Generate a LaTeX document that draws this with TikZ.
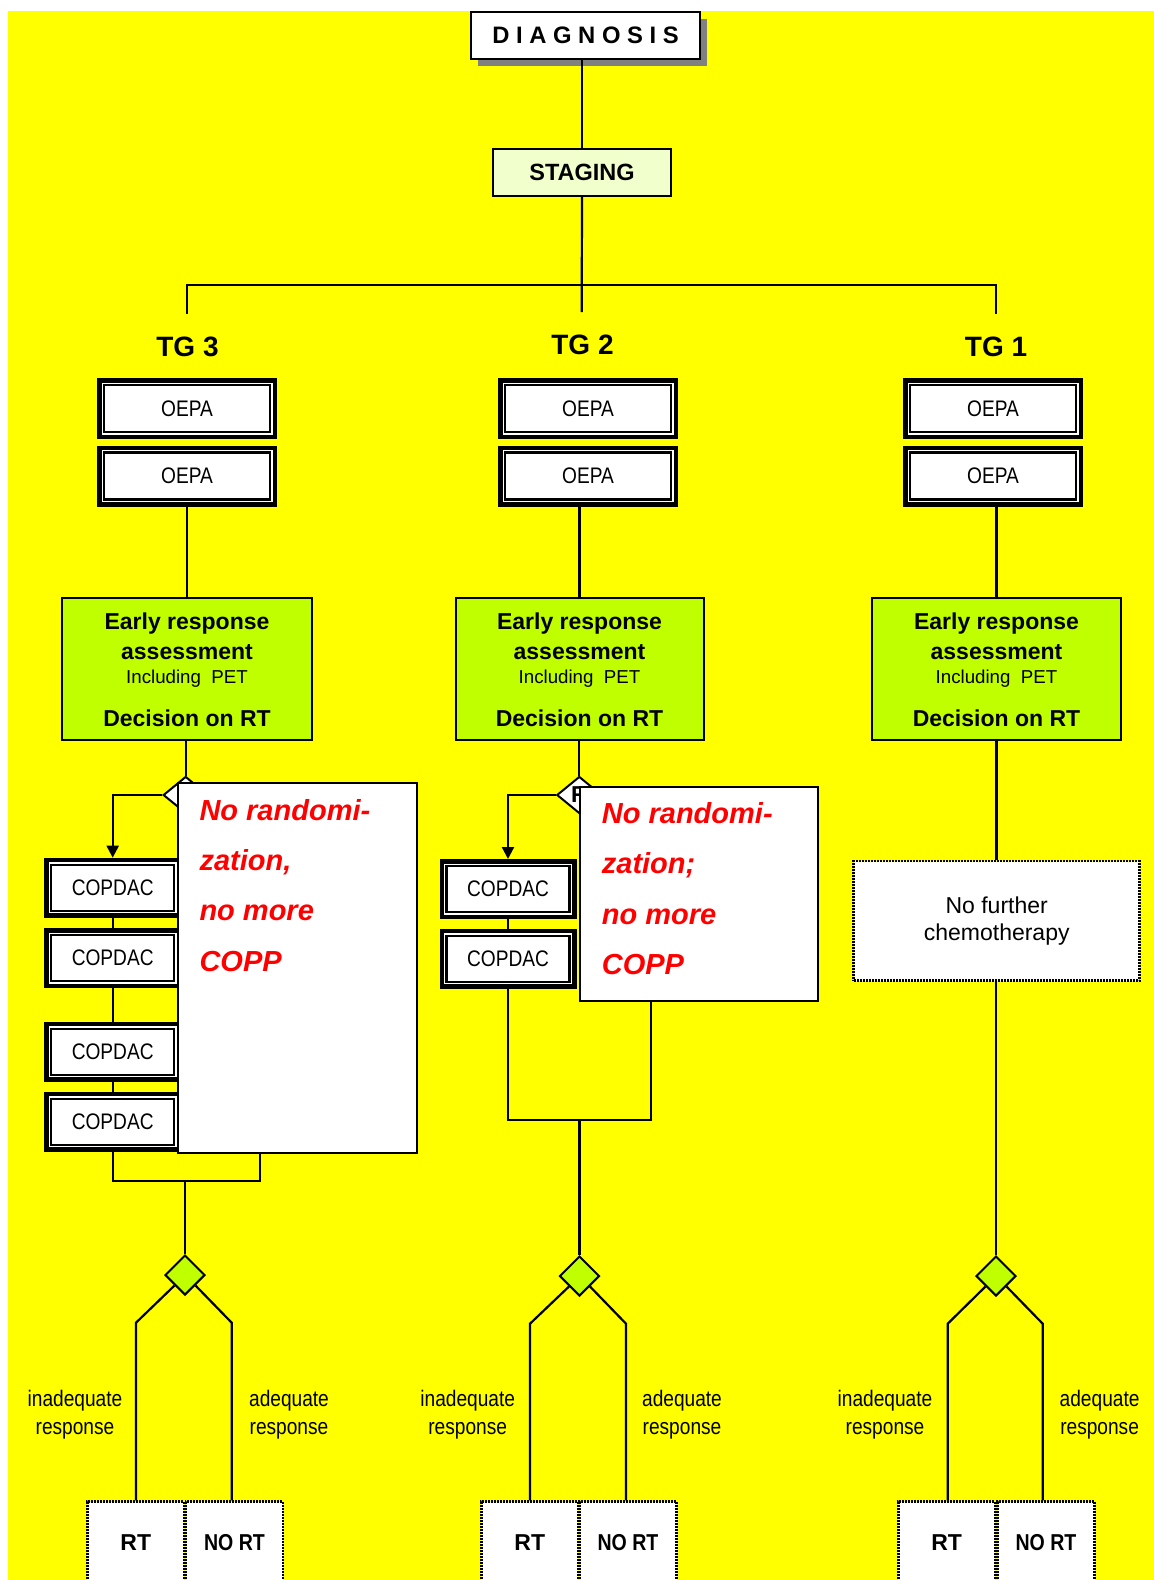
\documentclass[tikz,border=0pt]{standalone}
\usepackage{fontspec}
\setmainfont{Liberation Sans}
\newfontfamily\narrowfont[FakeStretch=0.85]{Liberation Sans}
\usetikzlibrary{shapes.geometric,arrows.meta,shadows}
\definecolor{bgyellow}{RGB}{255,255,0}
\definecolor{paleg}{RGB}{240,255,204}
\definecolor{limeg}{RGB}{192,255,0}
\definecolor{shadowgray}{RGB}{128,128,128}
\definecolor{notered}{RGB}{255,0,0}
\newcommand\fs[1]{\fontsize{#1}{#1}\selectfont}
% double framed box: name, x, y, width, height, text
\newcommand\dblbox[6]{%
  \node[dblout, minimum width=#4pt-4.5pt, minimum height=#5pt-4.5pt] (#1) at (#2,#3) {};
  \node[dblin, minimum width=#4pt-14pt, minimum height=#5pt-14pt] (#1in) at (#2,#3) {#6};
}
\newcommand\erlines[1]{%
  \node[ertxtb, anchor=base] (#1la) at ([yshift=-32pt]#1.north) {Early response};
  \node[ertxtb, anchor=base] (#1lb) at ([yshift=-62pt]#1.north) {assessment};
  \node[ertxts, anchor=base] (#1lc) at ([yshift=-86pt]#1.north) {Including\ \ PET};
  \node[ertxtb, anchor=base] (#1ld) at ([yshift=-129pt]#1.north) {Decision on RT};
}
\begin{document}
\begin{tikzpicture}[x=1pt,y=-1pt,
  conn/.style={line width=2.2pt, draw=black},
  arr/.style={conn, -{Triangle[width=12pt,length=12pt]}},
  diagbox/.style={draw=black, line width=2pt, fill=white, minimum width=229pt, minimum height=47pt, inner sep=0pt,
     font=\bfseries\fs{23.8},
     drop shadow={shadow xshift=7pt, shadow yshift=-7pt, fill=shadowgray, opacity=1}},
  stagebox/.style={draw=black, line width=2pt, fill=paleg, minimum width=178pt, minimum height=47pt, inner sep=0pt, font=\bfseries\fs{23.5}},
  tglabel/.style={font=\bfseries\fs{28}, inner sep=0pt},
  dblout/.style={draw=black, line width=4.5pt, fill=white, inner sep=0pt},
  dblin/.style={draw=black, line width=2.3pt, inner sep=0pt, font=\narrowfont\fs{22.5}},
  erbox/.style={draw=black, line width=2pt, fill=limeg, minimum height=142pt, inner sep=0pt},
  ertxtb/.style={font=\bfseries\fs{23}, inner sep=0pt},
  ertxts/.style={font=\fs{18.7}, inner sep=0pt},
  rdiam/.style={diamond, draw=black, line width=2pt, fill=white, minimum width=45pt, minimum height=37pt, inner sep=0pt, font=\bfseries\fs{23}},
  gdiam/.style={diamond, draw=black, line width=2pt, fill=limeg, minimum width=40pt, minimum height=40pt, inner sep=0pt},
  notebox/.style={draw=black, line width=2pt, fill=white, inner sep=0pt},
  notetxt/.style={font=\bfseries\itshape\fontsize{29}{50.3}\selectfont, text=notered, align=left, inner sep=0pt, anchor=north west},
  dotbox/.style={draw=black, line width=2.6pt, dash pattern=on 2pt off 1pt, fill=white, inner sep=0pt},
  rtbox/.style={dotbox, minimum width=97pt, minimum height=82pt, font=\bfseries\fs{23}},
  resp/.style={font=\narrowfont\fontsize{22.5}{28}\selectfont, align=center, inner sep=0pt}]

\useasboundingbox (0,0) rectangle (1154,1580);
\clip (0,0) rectangle (1154,1580);
\fill[white] (0,0) rectangle (1154,1580);
\fill[bgyellow] (8,11) rectangle (1154,1580);

% top
\node[diagbox] (diag) at (585.5,35.5) {D I A G N O S I S};
\node[stagebox] (stag) at (582,172.5) {STAGING};

% therapy group labels
\node[tglabel] (tga) at (187.5,347) {TG 3};
\node[tglabel] (tgb) at (582.5,345) {TG 2};
\node[tglabel] (tgc) at (996,347) {TG 1};

% OEPA boxes
\dblbox{oa1}{187}{408.5}{180}{61}{OEPA}
\dblbox{oa2}{187}{476}{180}{61}{OEPA}
\dblbox{ob1}{588}{408.5}{180}{61}{OEPA}
\dblbox{ob2}{588}{476}{180}{61}{OEPA}
\dblbox{oc1}{993}{408.5}{180}{61}{OEPA}
\dblbox{oc2}{993}{476}{180}{61}{OEPA}

% early response boxes
\node[erbox, minimum width=250pt] (era) at (187,669) {};
\node[erbox, minimum width=248pt] (erb) at (579.5,669) {};
\node[erbox, minimum width=249pt] (erc) at (996.5,669) {};
\erlines{era}
\erlines{erb}
\erlines{erc}

% randomisation diamonds
\node[rdiam] (rda) at (185.7,795) {};
\node[rdiam] (rdb) at (579.3,795) {R};

% COPDAC boxes
\dblbox{ca1}{112.7}{887.7}{137}{60}{COPDAC}
\dblbox{ca2}{112.7}{958}{137}{60}{COPDAC}
\dblbox{ca3}{112.7}{1051.7}{137}{60}{COPDAC}
\dblbox{ca4}{112.7}{1121.7}{137}{60}{COPDAC}
\dblbox{cb1}{508}{889}{137}{60}{COPDAC}
\dblbox{cb2}{508}{958.8}{137}{60}{COPDAC}

% notes
\node[notebox, minimum width=239pt, minimum height=370pt] (na) at (297,968) {};
\node[notetxt] (nat) at (199.3,798.9) {No randomi-\\zation,\\no more\\COPP};
\node[notebox, minimum width=238pt, minimum height=214pt] (nb) at (699.2,893.9) {};
\node[notetxt] (nbt) at (601.7,802.2) {No randomi-\\zation;\\no more\\COPP};

% no further chemotherapy
\node[dotbox, minimum width=286pt, minimum height=119.5pt, font=\fontsize{23}{26.7}\selectfont, align=center] (nf) at (996.7,920.9) {No further\\chemotherapy};

% response diamonds
\node[gdiam] (gda) at (185,1275) {};
\node[gdiam] (gdb) at (579.5,1276) {};
\node[gdiam] (gdc) at (996,1276) {};

% RT boxes
\node[rtbox] (rta) at (135.8,1542.7) {RT};
\node[rtbox, font=\bfseries\narrowfont\fs{23}] (nra) at (234.5,1542.7) {NO RT};
\node[rtbox] (rtb) at (529.8,1542.7) {RT};
\node[rtbox, font=\bfseries\narrowfont\fs{23}] (nrb) at (628,1542.7) {NO RT};
\node[rtbox] (rtc) at (946.7,1542.7) {RT};
\node[rtbox, font=\bfseries\narrowfont\fs{23}] (nrc) at (1046,1542.7) {NO RT};

% response labels
\node[resp] (ina) at (75,1414.5) {inadequate\\response};
\node[resp] (ada) at (289,1414.5) {adequate\\response};
\node[resp] (inb) at (467.7,1415) {inadequate\\response};
\node[resp] (adb) at (682,1415) {adequate\\response};
\node[resp] (inc) at (885,1414.5) {inadequate\\response};
\node[resp] (adc) at (1099.6,1414.5) {adequate\\response};

% coordinates
\coordinate (bar) at (581.7,285);
\coordinate (tgm) at (581.7,312);
\coordinate (h1) at (186.7,314);
\coordinate (h3) at (996,314);
\coordinate (brka) at (185,1181);
\coordinate (brkar) at (260,1154);
\coordinate (brkb) at (579.5,1120);
\coordinate (brkbr) at (651,1001.7);
\coordinate (la) at (136,1322.7);
\coordinate (ra) at (231.7,1322.7);
\coordinate (lb) at (530,1323.7);
\coordinate (rb) at (626,1323.7);
\coordinate (lc) at (947.7,1323.7);
\coordinate (rc) at (1042.7,1323.7);

% connectors
\draw[conn] (stag.north) -- (stag.north |- diag.south);
\draw[conn] (stag.south) -- (tgm);
\draw[conn] (h1) |- (bar) -| (h3);

\draw[conn] (era.north) -- (era.north |- oa2.south);
\draw[conn] (erb.north) -- (erb.north |- ob2.south);
\draw[conn] (erc.north) -- (erc.north |- oc2.south);

\draw[conn] (rda.north) -- (rda.north |- era.south);
\draw[conn] (rdb.north) -- (rdb.north |- erb.south);
\draw[arr] (rda.west) -| (ca1.north);
\draw[arr] (rdb.west) -| (cb1.north);

\draw[conn] (ca1.south) -- (ca2.north);
\draw[conn] (ca2.south) -- (ca3.north);
\draw[conn] (ca3.south) -- (ca4.north);
\draw[conn] (ca4.south) |- (brka) -| (brkar);
\draw[conn] (brka) -- (gda.north);

\draw[conn] (cb1.south) -- (cb2.north);
\draw[conn] (cb2.south) |- (brkb) -| (brkbr);
\draw[conn] (brkb) -- (gdb.north);

\draw[conn] (erc.south) -- (erc.south |- nf.north);
\draw[conn] (gdc.north) -- (gdc.north |- nf.south);

\draw[conn] (gda.south west) -- (la) -- (la |- rta.north);
\draw[conn] (gda.south east) -- (ra) -- (ra |- nra.north);
\draw[conn] (gdb.south west) -- (lb) -- (lb |- rtb.north);
\draw[conn] (gdb.south east) -- (rb) -- (rb |- nrb.north);
\draw[conn] (gdc.south west) -- (lc) -- (lc |- rtc.north);
\draw[conn] (gdc.south east) -- (rc) -- (rc |- nrc.north);
\end{tikzpicture}
\end{document}
